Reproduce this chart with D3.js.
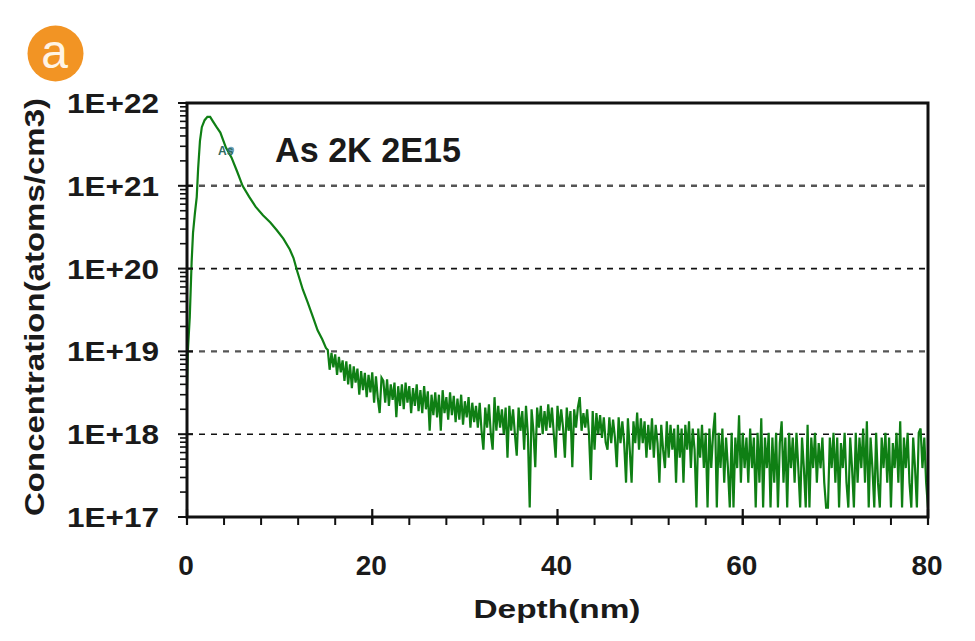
<!DOCTYPE html>
<html><head><meta charset="utf-8">
<script src="https://cdn.jsdelivr.net/npm/d3@7"></script>
<style>body{margin:0;background:#fff}svg{display:block}</style>
</head><body><svg id="c" width="975" height="641"></svg>
<script>
// ---------- data ----------
const xTickValues = [0, 20, 40, 60, 80];
const yTickValues = [1e17, 1e18, 1e19, 1e20, 1e21, 1e22];
const yTickLabels = ["1E+17", "1E+18", "1E+19", "1E+20", "1E+21", "1E+22"];
const gridValues = [1e18, 1e19, 1e20, 1e21];

// smooth implant profile (depth nm, atoms/cm3)
const profileDepth = [0, 0.1, 0.3, 0.5, 0.65, 0.85, 1.05, 1.2, 1.4, 1.6, 1.9, 2.2, 2.5, 2.8, 3.2, 3.6, 4.2, 4.8, 5.4, 6.0, 6.7, 7.4, 8.2, 9.0, 9.7, 10.4, 11.1, 11.5, 11.9, 12.5, 13.0, 13.6, 14.1, 14.6, 15.0];
const profileConc = [3.5e18, 1.05e19, 2.6e19, 1.2e20, 2.7e20, 4.6e20, 7.3e20, 1.6e21, 3.5e21, 5.1e21, 6.2e21, 6.8e21, 6.8e21, 6.0e21, 5.1e21, 4.4e21, 2.9e21, 2.2e21, 1.5e21, 1.0e21, 7.4e20, 5.6e20, 4.4e20, 3.6e20, 2.9e20, 2.3e20, 1.7e20, 1.34e20, 9.3e19, 5.6e19, 4.0e19, 2.6e19, 1.8e19, 1.4e19, 1.1e19];

// noisy tail, depth starts at 15.2 nm with 0.2 nm step, values in units of 1E+17 atoms/cm3
const tailStart = 15.2, tailStep = 0.2, tailUnit = 1e17;
const tailConc = [
 104,60,96,64,92,52,86,56,78,44,
 76,40,70,36,66,42,62,30,58,34,
 55,28,52,32,56,24,50,27,18,48,
 44,24,46,22,40,26,42,16,38,22,
 40,20,42,24,38,18,36,22,40,19,
 34,18,38,20,33,11,30,17,32,16,
 30,11,34,18,28,15,32,17,29,14,
 27,15,30,13,25,16,28,12,24,14,
 22,12,24,11,6.5,21,12,23,10,6.5,
 28,11,22,12,20,10,21,5.2,22,11,
 20,10,5.5,21,11,19,6.5,22,10,1.3,
 20,11,4,21,12,22,10,19,11,23,
 12,21,10,5.2,22,11,20,12,5.2,21,
 11,19,4,20,12,21,28,11,18,12,
 20,10,2.8,19,6.5,18,10,17,9,16,
 8,6.5,16,7.8,15,9.1,4,16,7.8,14.3,
 7.8,2.6,15.6,6.5,2.6,14.3,7.8,18.2,6.5,15.6,
 7.8,14.3,5.2,13,6.5,15.6,5.2,13,7.8,2.6,
 13,6.5,3.9,14.3,5.2,13,6.5,11.7,2.6,13,
 5.2,11.7,2.6,13,6.5,14.3,3.9,11.7,6.5,1.3,
 11.7,5.2,13,3.9,10.4,1.3,11.7,3.9,10.4,18.2,
 1.3,10.4,3.9,11.7,2.6,9.1,3.9,1.3,10.4,1.3,
 9.1,3.9,16.9,2.6,10.4,3.9,9.1,2.6,11.7,3.9,
 9.1,1.3,10.4,2.6,15.6,1.3,9.1,3.9,10.4,1.3,
 9.1,2.6,10.4,1.3,7.8,14.3,2.6,9.1,1.3,10.4,
 3.9,9.1,2.6,10.4,3.9,1.3,9.1,3.9,1.3,13,
 1.3,9.1,3.9,10.4,2.6,7.8,3.9,9.1,2.6,1.3,
 1.3,9.1,3.9,10.4,2.6,9.1,1.3,7.8,3.9,10.4,
 2.6,1.3,9.1,3.9,1.3,10.4,2.6,9.1,3.9,11.7,
 2.6,14.3,1.3,9.1,3.9,1.3,10.4,2.6,1.3,9.1,
 3.9,10.4,2.6,9.1,1.3,7.8,3.9,10.4,2.6,14.3,
 1.3,9.1,3.9,10.4,2.6,1.3,9.1,3.9,1.3,10.4,
 11.7,3.9,9.1,2.6,1.3
];

// ---------- build series ----------
const series = profileDepth.map((d, i) => ({d, c: profileConc[i]}))
  .concat(tailConc.map((v, i) => ({d: tailStart + i * tailStep, c: v * tailUnit})));

// ---------- layout ----------
const L = 187, R = 928, T = 103, B = 517;
const FONT = "'Liberation Sans', Arial, Helvetica, sans-serif";
const svg = d3.select("#c");

const x = d3.scaleLinear().domain([0, 80]).range([L, R]);
const y = d3.scaleLog().domain([1e17, 1e22]).range([B, T]);

// gridlines
svg.append("g").selectAll("line").data(gridValues).join("line")
  .attr("x1", L).attr("x2", R)
  .attr("y1", d => y(d)).attr("y2", d => y(d))
  .attr("stroke", (d, i) => (i % 2 === 1 ? "#555" : "#111"))
  .attr("stroke-width", (d, i) => (i % 2 === 1 ? 2.4 : 1.6))
  .attr("stroke-dasharray", "6,6");

// data line
svg.append("clipPath").attr("id", "pc").append("rect")
  .attr("x", L).attr("y", T).attr("width", R - L).attr("height", B - T);
svg.append("path").datum(series)
  .attr("clip-path", "url(#pc)")
  .attr("fill", "none")
  .attr("stroke", "#0f7f14")
  .attr("stroke-width", 2.2)
  .attr("stroke-linejoin", "miter")
  .attr("d", d3.line().x(p => x(p.d)).y(p => y(Math.max(p.c, 1e17))));

// minor y ticks (log)
const minorY = [];
for (let k = 17; k < 22; k++) for (let m = 2; m <= 9; m++) minorY.push(m * Math.pow(10, k));
svg.append("g").selectAll("line").data(minorY).join("line")
  .attr("x1", L - 7).attr("x2", L).attr("y1", d => y(d)).attr("y2", d => y(d))
  .attr("stroke", "#111").attr("stroke-width", 1.6);
svg.append("g").selectAll("line").data(yTickValues).join("line")
  .attr("x1", L - 9).attr("x2", L + 6).attr("y1", d => y(d)).attr("y2", d => y(d))
  .attr("stroke", "#111").attr("stroke-width", 2);

// x ticks
const minorX = d3.range(0, 81, 4);
svg.append("g").selectAll("line").data(minorX).join("line")
  .attr("x1", d => x(d)).attr("x2", d => x(d)).attr("y1", B).attr("y2", B + 8)
  .attr("stroke", "#111").attr("stroke-width", 2);
svg.append("g").selectAll("line").data(xTickValues).join("line")
  .attr("x1", d => x(d)).attr("x2", d => x(d)).attr("y1", B - 8).attr("y2", B + 8)
  .attr("stroke", "#111").attr("stroke-width", 2.2);

// frame
svg.append("rect").attr("x", L).attr("y", T).attr("width", R - L).attr("height", B - T)
  .attr("fill", "none").attr("stroke", "#111").attr("stroke-width", 3);

// y tick labels
svg.append("g").selectAll("text").data(yTickValues).join("text")
  .attr("x", 159).attr("y", d => y(d) + 10)
  .attr("text-anchor", "end")
  .attr("font-family", FONT).attr("font-weight", "bold").attr("font-size", 27)
  .attr("textLength", 92).attr("lengthAdjust", "spacingAndGlyphs")
  .attr("fill", "#1a1a1a")
  .text((d, i) => yTickLabels[i]);

// x tick labels
svg.append("g").selectAll("text").data(xTickValues).join("text")
  .attr("x", d => x(d) - 1).attr("y", 575)
  .attr("text-anchor", "middle")
  .attr("font-family", FONT).attr("font-weight", "bold").attr("font-size", 28)
  .attr("fill", "#1a1a1a")
  .text(d => d);

// axis titles
svg.append("text").attr("x", 557).attr("y", 618).attr("text-anchor", "middle")
  .attr("font-family", FONT).attr("font-weight", "bold").attr("font-size", 26)
  .attr("textLength", 167).attr("lengthAdjust", "spacingAndGlyphs")
  .attr("fill", "#1a1a1a").text("Depth(nm)");
svg.append("text").attr("transform", "translate(44,307) rotate(-90)")
  .attr("text-anchor", "middle")
  .attr("font-family", FONT).attr("font-weight", "bold").attr("font-size", 27)
  .attr("textLength", 418).attr("lengthAdjust", "spacingAndGlyphs")
  .attr("fill", "#1a1a1a").text("Concentration(atoms/cm3)");

// annotation
svg.append("text").attr("x", 275).attr("y", 162)
  .attr("font-family", FONT).attr("font-weight", "bold").attr("font-size", 34.5)
  .attr("textLength", 186).attr("lengthAdjust", "spacingAndGlyphs")
  .attr("fill", "#1a1a1a").text("As 2K 2E15");

// series label
svg.append("circle").attr("cx", 231).attr("cy", 150).attr("r", 3.2).attr("fill", "#4b8fae").attr("opacity", 0.8);
svg.append("text").attr("x", 218).attr("y", 155)
  .attr("font-family", FONT).attr("font-weight", "bold").attr("font-size", 12)
  .attr("fill", "#2f6a62").text("As");

// panel badge
svg.append("circle").attr("cx", 55.5).attr("cy", 53.5).attr("r", 28).attr("fill", "#f29424");
svg.append("text").attr("x", 54.5).attr("y", 68).attr("text-anchor", "middle")
  .attr("font-family", FONT).attr("font-size", 48)
  .attr("fill", "#fff4e6").text("a");
</script>
</body></html>
